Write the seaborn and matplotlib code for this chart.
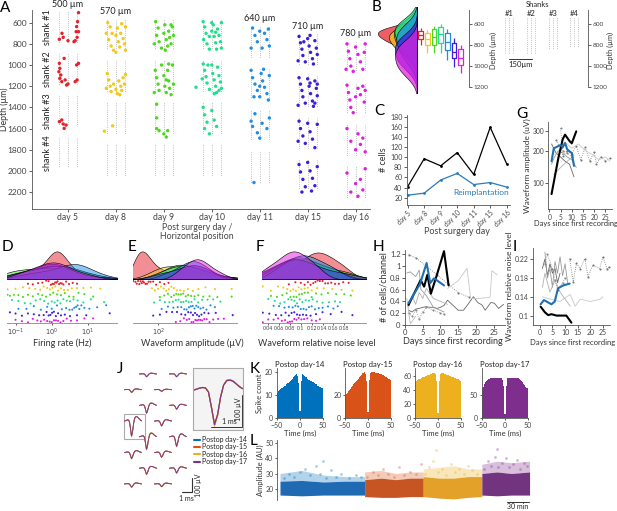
import numpy as np
import pandas as pd
import matplotlib
matplotlib.use("Agg")
import matplotlib.pyplot as plt
from matplotlib.lines import Line2D
from matplotlib.patches import Rectangle
from matplotlib.ticker import NullLocator
import seaborn as sns

# ---------------- values ----------------
days = ["day 5", "day 8", "day 9", "day 10", "day 11", "day 15", "day 16"]
day_colors = ["#e8202a", "#f2c81a", "#4cd81e", "#1ee08c", "#1f8ee6", "#3c1ed8", "#e01ee0"]
implant_top = [500, 570, 570, 570, 640, 710, 780]
depth_labels = ["500 µm", "570 µm", "", "", "640 µm", "710 µm", "780 µm"]

# panel A units: (horizontal offset within day, depth in um)
units_d5 = [(-0.18, 757), (-0.125, 700), (-0.1, 738), (0.0, 770), (0.125, 779), (0.17, 685), (0.18, 637),
            (0.2, 590), (0.22, 505), (0.19, 738), (0.15, 770), (0.22, 685),
            (-0.18, 984), (-0.19, 1063), (-0.17, 1126), (-0.13, 1157), (-0.08, 937), (-0.06, 1141),
            (-0.03, 1189), (0.0, 1179), (0.15, 1157), (0.18, 999), (0.22, 984), (-0.17, 1031),
            (-0.15, 1094), (0.19, 1141),
            (-0.18, 1535), (-0.13, 1519), (-0.1, 1557), (-0.04, 1567), (-0.08, 1598)]
units_d8 = [(-0.17, 600), (-0.12, 640), (-0.2, 700), (-0.15, 760), (-0.1, 820), (-0.05, 860), (0.0, 720),
            (0.03, 650), (0.05, 780), (0.08, 830), (0.1, 700), (0.12, 610), (0.15, 750), (0.18, 800),
            (0.2, 640), (0.2, 860), (-0.08, 700), (0.0, 880),
            (-0.18, 1080), (-0.15, 1140), (-0.12, 1200), (-0.1, 1250), (-0.05, 1180), (0.0, 1230),
            (0.03, 1270), (0.06, 1150), (0.1, 1200), (0.12, 1240), (0.15, 1120), (0.18, 1180),
            (0.2, 1090), (-0.2, 1220), (0.08, 1280),
            (-0.07, 1575), (-0.24, 1625)]
units_d9 = [(-0.17, 590), (-0.12, 650), (-0.15, 720), (-0.1, 780), (-0.05, 840), (0.0, 700), (0.02, 620),
            (0.05, 760), (0.08, 820), (0.1, 680), (0.12, 740), (0.15, 800), (0.18, 640), (0.2, 720),
            (-0.2, 800), (0.03, 860), (0.15, 620),
            (-0.18, 1050), (-0.15, 1120), (-0.12, 1180), (-0.1, 1240), (-0.05, 1000), (0.0, 1100),
            (0.02, 1200), (0.05, 1260), (0.08, 1050), (0.1, 1150), (0.12, 1220), (0.15, 1280),
            (0.18, 1000), (0.2, 1180), (-0.2, 1260), (0.05, 1140), (0.1, 990),
            (-0.15, 1370), (-0.15, 1500), (-0.15, 1600), (-0.1, 1620), (0.0, 1650), (0.05, 1680), (0.08, 1620)]
units_d10 = [(-0.18, 590), (-0.15, 640), (-0.12, 700), (-0.17, 760), (-0.1, 800), (-0.05, 850), (0.0, 680),
             (0.03, 620), (0.05, 730), (0.08, 790), (0.1, 850), (0.12, 660), (0.15, 720), (0.18, 780),
             (0.2, 600), (0.2, 840), (0.0, 600), (-0.05, 730), (0.08, 690),
             (-0.18, 990), (-0.15, 1050), (-0.12, 1110), (-0.1, 1170), (-0.05, 1230), (0.0, 1000),
             (0.02, 1080), (0.05, 1140), (0.08, 1200), (0.1, 1260), (0.12, 1020), (0.15, 1100),
             (0.18, 1160), (0.2, 1220), (-0.2, 1130), (0.05, 1270), (-0.08, 1000), (0.15, 1240),
             (-0.33, 1210),
             (-0.18, 1400), (-0.15, 1470), (-0.1, 1540), (-0.15, 1600), (-0.05, 1650), (0.0, 1430),
             (0.05, 1520), (0.1, 1580)]
units_d11 = [(-0.15, 650), (-0.1, 720), (-0.05, 780), (0.0, 680), (0.05, 840), (0.1, 700), (0.15, 760),
             (0.2, 820), (-0.18, 840), (0.18, 660),
             (-0.18, 1050), (-0.15, 1120), (-0.1, 1180), (-0.05, 1240), (0.0, 1300), (0.03, 1080),
             (0.06, 1150), (0.1, 1210), (0.15, 1270), (0.2, 1100), (0.18, 1330), (-0.12, 1300),
             (0.08, 1040), (0.0, 1200),
             (-0.18, 1530), (-0.15, 1580), (-0.1, 1460), (-0.05, 1640), (0.0, 1690), (0.05, 1550),
             (0.15, 1600), (0.2, 1500),
             (-0.12, 2110)]
units_d15 = [(-0.18, 730), (-0.15, 790), (-0.12, 850), (-0.1, 910), (-0.05, 970), (0.0, 750), (0.03, 820),
             (0.06, 880), (0.1, 940), (0.12, 990), (0.15, 770), (0.18, 840), (0.2, 900), (-0.2, 960),
             (0.05, 720), (-0.08, 780),
             (-0.18, 1120), (-0.15, 1180), (-0.12, 1240), (-0.1, 1300), (-0.05, 1360), (0.0, 1130),
             (0.03, 1200), (0.06, 1270), (0.1, 1340), (0.12, 1390), (0.15, 1150), (0.18, 1220),
             (0.2, 1290), (-0.2, 1380), (0.05, 1170), (0.15, 1360), (0.2, 1180),
             (-0.18, 1530), (-0.15, 1600), (-0.1, 1670), (-0.05, 1740), (0.0, 1550), (0.05, 1630),
             (0.1, 1700), (0.15, 1780), (0.2, 1560), (-0.2, 1720),
             (-0.18, 1940), (-0.15, 2010), (-0.1, 2080), (-0.05, 2150), (0.0, 1920), (0.05, 2000),
             (0.1, 2070), (0.15, 2140), (0.2, 1960), (-0.12, 2200), (0.08, 2190)]
units_d16 = [(-0.18, 800), (-0.15, 870), (-0.12, 940), (-0.1, 1010), (-0.05, 1060), (0.0, 830), (0.05, 900),
             (0.1, 970), (0.15, 1040), (0.2, 800), (0.18, 880), (-0.2, 1040),
             (-0.18, 1190), (-0.15, 1260), (-0.12, 1330), (-0.1, 1400), (-0.05, 1450), (0.0, 1300),
             (0.05, 1220), (0.1, 1280), (0.15, 1200), (0.18, 1350), (0.2, 1240),
             (-0.18, 1600), (-0.1, 1720), (0.0, 1800), (0.05, 1650), (0.1, 1750), (0.15, 1690), (0.2, 1820),
             (-0.18, 2020), (-0.1, 2200), (0.0, 2120), (0.05, 2240), (0.1, 2080), (0.15, 2180), (0.2, 1980)]
units_by_day = [units_d5, units_d8, units_d9, units_d10, units_d11, units_d15, units_d16]

# panel B: unit depths per day (whisker, q1, median, q3, whisker)
b_depths = [[638, 663, 700, 743, 797], [654, 686, 743, 797, 876], [616, 648, 717, 797, 870],
            [597, 629, 695, 775, 870], [648, 686, 765, 844, 940], [733, 781, 860, 924, 1003],
            [797, 838, 924, 987, 1067]]

# panel C
cells_total = [42, 97, 83, 109, 66, 159, 87]
cells_reimpl = [25, 29, 55, 68, 46, 50, 41]

# panel D firing rate (Hz)
fr_by_day = [
    [0.22, 0.3, 0.42, 0.55, 0.7, 0.82, 0.95, 1.05, 1.15, 1.25, 1.35, 1.45, 1.6, 1.75, 1.9, 2.1, 2.5, 3.0, 3.8, 5.0],
    [0.06, 0.1, 0.16, 0.24, 0.35, 0.48, 0.6, 0.75, 0.9, 1.05, 1.25, 1.5, 1.8, 2.2, 2.8, 3.6, 5.0, 7.5, 12.0, 22.0],
    [0.06, 0.07, 0.09, 0.12, 0.16, 0.22, 0.3, 0.42, 0.55, 0.7, 0.9, 1.1, 1.4, 1.8, 2.3, 3.0, 4.0, 5.5, 8.0, 14.0],
    [0.08, 0.12, 0.18, 0.26, 0.36, 0.48, 0.62, 0.8, 1.0, 1.2, 1.45, 1.75, 2.1, 2.6, 3.2, 4.0, 5.2, 7.5, 12.0, 28.0],
    [0.12, 0.2, 0.32, 0.5, 0.75, 1.0, 1.4, 1.9, 2.5, 3.1, 3.7, 4.2, 4.7, 5.2, 5.8, 6.6, 8.0, 11.0, 18.0, 32.0],
    [0.07, 0.1, 0.15, 0.22, 0.32, 0.45, 0.6, 0.72, 0.82, 0.92, 1.02, 1.15, 1.3, 1.5, 1.8, 2.3, 3.2, 5.0, 9.0, 40.0],
    [0.1, 0.15, 0.22, 0.3, 0.4, 0.5, 0.62, 0.75, 0.88, 1.0, 1.15, 1.3, 1.5, 1.75, 2.1, 2.6, 3.4, 5.0, 8.0, 14.0]]
# panel E waveform amplitude (uV)
amp_by_day = [
    [52, 55, 57, 59, 61, 63, 65, 67, 69, 72, 75, 78, 82, 88, 95, 105, 118, 132],
    [85, 92, 100, 108, 116, 124, 133, 142, 152, 165, 180, 198, 220, 250, 290, 350, 450, 700],
    [105, 118, 130, 142, 152, 162, 172, 183, 195, 208, 222, 240, 262, 290, 330, 390, 480, 700],
    [90, 105, 120, 135, 148, 160, 172, 184, 196, 210, 225, 242, 262, 288, 320, 370, 430, 520],
    [110, 130, 150, 168, 185, 200, 213, 226, 238, 250, 262, 275, 290, 308, 330, 360, 400, 450],
    [88, 105, 125, 145, 165, 185, 205, 222, 238, 252, 266, 280, 296, 315, 340, 380, 460, 720],
    [160, 180, 198, 214, 228, 242, 255, 268, 280, 293, 307, 322, 340, 362, 390, 430, 490, 570]]
# panel F relative noise level
noise_by_day = [
    [0.078, 0.09, 0.1, 0.107, 0.113, 0.118, 0.123, 0.127, 0.131, 0.135, 0.14, 0.145, 0.15, 0.156, 0.163, 0.17, 0.178, 0.188],
    [0.03, 0.045, 0.058, 0.068, 0.075, 0.081, 0.086, 0.091, 0.096, 0.101, 0.107, 0.113, 0.12, 0.13, 0.142, 0.158, 0.175, 0.195],
    [0.045, 0.056, 0.066, 0.074, 0.081, 0.087, 0.092, 0.097, 0.102, 0.107, 0.113, 0.12, 0.128, 0.138, 0.15, 0.165, 0.18, 0.192],
    [0.04, 0.052, 0.062, 0.07, 0.077, 0.083, 0.088, 0.093, 0.098, 0.103, 0.109, 0.115, 0.122, 0.13, 0.14, 0.152, 0.163, 0.172],
    [0.05, 0.06, 0.07, 0.078, 0.085, 0.09, 0.095, 0.1, 0.105, 0.11, 0.115, 0.12, 0.126, 0.133, 0.14, 0.15, 0.16, 0.168],
    [0.03, 0.042, 0.054, 0.064, 0.072, 0.078, 0.083, 0.088, 0.093, 0.098, 0.104, 0.11, 0.118, 0.128, 0.14, 0.155, 0.175, 0.195],
    [0.03, 0.04, 0.05, 0.058, 0.065, 0.071, 0.076, 0.08, 0.084, 0.088, 0.092, 0.096, 0.101, 0.106, 0.112, 0.12, 0.128, 0.135]]

# panel G (amplitude uV vs days)
g_black = ([1, 4, 6, 7, 9, 10, 12], [80, 170, 255, 280, 245, 233, 300])
g_blue = ([1, 2, 5, 6, 7, 8, 10, 11], [160, 210, 225, 215, 235, 205, 190, 145])
g_gray = [([1, 3, 5, 7, 9, 11], [230, 190, 175, 160, 150, 115]),
          ([1, 2, 4, 6, 8, 10, 12], [150, 170, 200, 190, 175, 165, 140]),
          ([3, 5, 6, 8, 10, 12, 14, 16, 18, 20, 21, 23, 25, 27],
           [250, 210, 180, 200, 185, 220, 165, 215, 160, 195, 150, 175, 160, 170]),
          ([4, 7, 10, 13, 16, 19, 22, 25, 27], [200, 240, 210, 230, 200, 185, 165, 175, 160]),
          ([2, 5, 8, 11], [120, 140, 160, 180]),
          ([5, 6, 8, 10], [320, 200, 190, 175])]
# panel H (cells / channel)
h_black = ([1, 4.4, 5.4, 6.3, 7.3, 9, 11, 12.3], [0.34, 0.76, 0.65, 0.85, 0.53, 0.85, 1.25, 0.67])
h_blue = ([1, 4.2, 6.1, 7.1, 8.2, 11], [0.37, 0.69, 1.05, 0.71, 0.79, 0.67])
h_gray = [([1, 2, 3, 4, 5, 6, 7, 8, 9, 10, 11, 12, 15, 16.5, 18, 19.3, 20.5, 21.7, 22.6, 24.2, 25.2, 26.4, 27.8],
           [0.25, 0.22, 0.27, 0.28, 0.3, 0.31, 0.3, 0.3, 0.28, 0.3, 0.33, 0.42, 0.25, 0.25, 0.37, 0.48,
            0.38, 0.34, 0.25, 0.38, 0.37, 0.28, 0.35]),
          ([0.5, 1.5, 3, 4, 4.5, 6, 8, 11], [0.88, 0.9, 0.82, 0.93, 0.6, 0.5, 0.3, 0.22]),
          ([1, 3, 6, 9, 12, 15, 18], [1.19, 1.14, 1.0, 0.85, 0.7, 0.55, 0.47]),
          ([12, 15, 17.5, 18.5, 21, 24, 24.5, 26], [0.62, 0.75, 0.96, 0.45, 0.45, 0.47, 0.92, 0.85]),
          ([1, 2, 3, 4, 5, 6, 8, 10, 12], [0.3, 0.5, 0.35, 0.55, 0.45, 0.62, 0.45, 0.4, 0.35]),
          ([1, 2, 3, 4, 5, 6, 8, 10, 11], [0.2, 0.15, 0.25, 0.1, 0.22, 0.3, 0.25, 0.2, 0.18]),
          ([0.5, 1.5, 3], [0.45, 0.02, 0.15])]
# panel I (relative noise)
i_black = ([0.3, 2, 3.3, 4.6, 6.6, 10.5, 12.5], [0.119, 0.107, 0.101, 0.103, 0.1, 0.1, 0.085])
i_blue = ([0.3, 1.6, 4.6, 5.9, 7.2, 9.2, 11.8], [0.124, 0.133, 0.124, 0.13, 0.158, 0.164, 0.168])
i_gray = [([1, 2, 3, 4, 5, 6, 7, 8], [0.2, 0.22, 0.185, 0.21, 0.19, 0.2, 0.17, 0.19]),
          ([2, 3, 4, 5, 6, 7, 8, 9, 10, 11], [0.235, 0.18, 0.2, 0.16, 0.215, 0.19, 0.225, 0.185, 0.21, 0.17]),
          ([11.8, 13.2, 14.5, 16, 17.8, 19.1, 21, 23.7, 25, 26.6, 27.6],
           [0.221, 0.172, 0.211, 0.2, 0.221, 0.183, 0.207, 0.2, 0.225, 0.2, 0.204]),
          ([1, 4, 8, 12, 14, 16, 20, 24, 25], [0.14, 0.135, 0.13, 0.145, 0.12, 0.135, 0.13, 0.135, 0.14]),
          ([1, 2, 4, 6, 8, 10, 12], [0.16, 0.19, 0.15, 0.175, 0.15, 0.135, 0.12]),
          ([2, 3, 5, 6, 7, 9, 10], [0.21, 0.23, 0.2, 0.175, 0.155, 0.17, 0.18])]

# panel J: mean waveform template (t in ms) and trough amplitude per site (uV)
wf_t = [-0.7, -0.6, -0.5, -0.4, -0.3, -0.2, -0.1, 0.0, 0.1, 0.2, 0.3, 0.4, 0.5, 0.6, 0.7, 0.8, 0.9, 1.0]
wf_shape = [0.0, 0.03, 0.06, 0.08, 0.07, -0.05, -0.5, -1.0, -0.72, -0.2, 0.15, 0.28, 0.3, 0.27, 0.2, 0.12, 0.06, 0.02]
site_amp = [[20, 20], [20, 12], [57, 28], [110, 35], [92, 70], [45, 35], [45, 35], [24, 20]]
session_gain = [1.0, 0.96, 1.03, 0.98]
sessions = ["Postop day-14", "Postop day-15", "Postop day-16", "Postop day-17"]
session_colors = ["#0072bd", "#d95319", "#edb120", "#7e2f8e"]

# panel K: auto-correlogram counts, 2 ms bins, -50..0 and 0..50
k_left = [
    [11, 11.5, 12, 12, 12.5, 13, 13, 13.5, 14, 14, 14.5, 15, 15, 15.5, 16, 16, 16.5, 17, 17.5, 18, 18.5, 19, 18, 15, 3],
    [20, 21, 22, 23, 24, 25, 26, 27, 28, 29, 30, 31, 32, 33, 34, 35, 36, 37, 38, 38.5, 39, 39.5, 38, 32, 5],
    [52, 53, 54, 55, 55.5, 56, 57, 57.5, 58, 58.5, 59, 59.5, 60, 60.5, 61, 61.5, 62, 62.5, 63, 63.5, 64, 64, 62, 52, 8],
    [65, 68, 71, 74, 77, 80, 82, 84, 85, 86, 87, 87, 87, 87, 87, 87, 87, 87, 87, 87, 87, 86, 83, 70, 10]]
k_right = [
    [3, 16, 18.5, 19, 18.5, 18, 17.5, 17.5, 17, 16.5, 16.5, 16, 16, 15.5, 15.5, 15, 15, 14.5, 14.5, 14, 14, 13.5, 13.5, 13, 13],
    [5, 33, 39, 40, 40, 40, 39.5, 39.5, 39, 39, 38.5, 38.5, 38, 38, 37.5, 37, 37, 36.5, 36, 35.5, 35, 34.5, 34, 33.5, 33],
    [8, 52, 62, 64, 64, 63.5, 63, 62.5, 62, 61.5, 61, 60.5, 60, 59.5, 59, 58.5, 58, 57.5, 57, 56.5, 56, 55.5, 55, 54, 53],
    [10, 70, 83, 86, 87, 87, 87, 87, 87, 87, 87, 87, 87, 87, 86, 85, 84, 82, 80, 77, 74, 71, 68, 66, 65]]
k_ylim = [21.5, 43, 71, 108]
k_yticks = [[0, 10, 20], [0, 20], [0, 20, 40, 60], [0, 50]]

# panel L: amplitude band per session (time in min)
l_time = [[0, 30, 60, 90, 117], [117, 140, 160, 180, 198], [198, 220, 240, 260, 279], [279, 300, 320, 345]]
l_low = [[16, 15.5, 16, 16, 16], [15, 14.5, 14.5, 15, 15], [15, 14, 13.5, 14.5, 15], [16, 15.5, 16, 16]]
l_high = [[25, 25.5, 24.5, 25, 25], [26, 27, 26, 27, 27], [28, 27, 27, 28, 28], [30, 31, 30, 31]]
l_halo = [[30, 32, 29, 28, 28], [31, 32, 30, 31, 31], [33, 34, 35, 33, 33], [36, 38, 37, 38]]
l_sparse = [
    [(5, 27), (12, 30), (20, 28), (28, 31), (35, 33), (42, 29), (50, 35), (55, 30), (63, 27), (70, 32),
     (78, 28), (85, 30), (95, 27), (105, 29), (112, 28), (60, 38)],
    [(120, 28), (128, 31), (135, 29), (142, 33), (150, 30), (158, 28), (165, 34), (172, 29), (180, 31),
     (188, 30), (195, 36)],
    [(200, 30), (206, 34), (212, 38), (218, 31), (224, 33), (230, 29), (236, 36), (242, 31), (248, 33),
     (254, 30), (260, 35), (266, 32), (272, 30), (215, 45)],
    [(282, 33), (287, 38), (292, 35), (297, 41), (302, 34), (307, 37), (312, 40), (317, 34), (322, 36),
     (327, 39), (332, 33), (337, 37), (342, 35), (300, 46)]]
l_band_colors = ["#1462b0", "#c44c18", "#e29c1e", "#6a2878"]

# ---------------- styling ----------------
sns.set_theme(style="ticks", rc={
    "axes.linewidth": 0.6, "axes.edgecolor": "#555555",
    "xtick.major.width": 0.6, "ytick.major.width": 0.6,
    "xtick.major.size": 2, "ytick.major.size": 2,
    "xtick.color": "#444444", "ytick.color": "#444444",
    "xtick.labelsize": 5.5, "ytick.labelsize": 5.5,
    "xtick.major.pad": 1.2, "ytick.major.pad": 1.2,
    "axes.labelsize": 6.5, "axes.labelpad": 1.0,
    "axes.labelcolor": "#333333", "text.color": "#222222"})
plt.rcParams["font.family"] = ["Lato", "DejaVu Sans"]

W, H = 617, 511
fig = plt.figure(figsize=(W / 100, H / 100), dpi=100)


def px_ax(x0, y0, x1, y1):
    return fig.add_axes([x0 / W, 1 - y1 / H, (x1 - x0) / W, (y1 - y0) / H])


def ftext(x, y, s, **kw):
    fig.text(x / W, 1 - y / H, s, **kw)


for letter, (lx, ly) in {"A": (0, 1), "B": (372, 0), "C": (374, 104), "G": (516, 107),
                         "D": (2, 240), "E": (128, 240), "F": (256, 240), "H": (373, 240),
                         "I": (513, 240), "J": (117, 362), "K": (250, 362), "L": (250, 434)}.items():
    ftext(lx, ly, letter, fontsize=11, va="top", ha="left", color="black")

# ---------------- A ----------------
shank_pitch, shank_len, site_cols = 395, 290, [-0.19, 0.0, 0.19]
axA = px_ax(31.7, 10, 370, 209)
for i, top in enumerate(implant_top):
    for k in range(4):
        y0 = top + k * shank_pitch
        for c in site_cols:
            axA.vlines(i + c, y0, y0 + shank_len, colors="#9a9a9a", linestyles=(0, (0.6, 1.6)), linewidth=0.7)
    if depth_labels[i]:
        axA.text(i, top - 75, depth_labels[i], ha="center", va="center", fontsize=6.5, clip_on=False)
rows = [(days[i], i + off, d) for i, units in enumerate(units_by_day) for off, d in units]
dfA = pd.DataFrame(rows, columns=["day", "x", "depth"])
sns.scatterplot(data=dfA, x="x", y="depth", hue="day", hue_order=days, palette=day_colors,
                s=6, linewidth=0, legend=False, ax=axA, zorder=3)
for k in range(4):
    axA.text(-0.42, implant_top[0] + shank_len / 2 + k * shank_pitch, f"shank #{k + 1}", rotation=90,
             ha="center", va="center", fontsize=6.5)
axA.set_xlim(-0.757, 6.3)
axA.set_ylim(2360, 480)
axA.set_xticks(range(7), days, fontsize=6.2)
axA.set_yticks(range(600, 2201, 200))
axA.tick_params(axis="y", labelsize=6)
axA.set_xlabel("")
axA.set_ylabel("Depth (µm)", fontsize=6.3, va="center")
axA.yaxis.set_label_coords(-0.08, 0.5)
sns.despine(ax=axA)
ftext(197, 232, "Post surgery day /\nHorizontal position", ha="center", va="center", fontsize=6.3,
      color="#444444", linespacing=1.1)

# ---------------- B ----------------
dfB = pd.DataFrame([(days[i], d) for i, vals in enumerate(b_depths) for d in vals], columns=["day", "depth"])
axBk = px_ax(375, 7, 417, 93)
for i, vals in enumerate(b_depths):
    sns.kdeplot(y=vals, ax=axBk, fill=True, color=day_colors[i], alpha=0.72, edgecolor="black",
                linewidth=0.4, bw_adjust=1.1)
axBk.set_ylim(1253, 436)
axBk.set_xlim(axBk.get_xlim()[1] * 1.02, 0)
axBk.set_xticks([])
axBk.set_yticks([])
axBk.set_xlabel("")
axBk.set_ylabel("")
for s in ["top", "left", "bottom"]:
    axBk.spines[s].set_visible(False)
axBk.spines["right"].set_color("black")
axBk.patch.set_alpha(0)

axBb = px_ax(417, 10, 469.3, 87.3)
sns.boxplot(data=dfB, x="day", y="depth", hue="day", order=days, hue_order=days, palette=day_colors,
            fill=False, width=0.7, linewidth=0.9, showcaps=False, whis=10, legend=False, ax=axBb)
axBb.set_xlim(-0.555, 7.28)
axBb.set_ylim(1200, 464)
axBb.set_xticks([])
axBb.yaxis.tick_right()
axBb.set_yticks([600, 800, 1000, 1200])
axBb.tick_params(axis="y", labelsize=4.6)
axBb.set_xlabel("")
axBb.set_ylabel("")
for s in ["top", "left", "bottom"]:
    axBb.spines[s].set_visible(False)
axBb.patch.set_alpha(0)
ftext(493, 50, "Depth (µm)", rotation=90, ha="center", va="center", fontsize=5.3, color="#333333")

shank_x_um = [91, 235, 378, 515]
probe_cols_um = [-26, 0, 26]
probe_bottom = [876, 876, 848, 819]
axP = px_ax(495, 10, 588, 87.3)
for s, xc in enumerate(shank_x_um):
    for c in probe_cols_um:
        axP.vlines(xc + c, 543, probe_bottom[s], colors="#9a9a9a", linestyles=(0, (0.6, 1.6)), linewidth=0.7)
    axP.text(xc, 502, f"#{s + 1}", ha="center", va="center", fontsize=5.5, clip_on=False)
axP.text(280, 410, "Shanks", ha="center", va="center", fontsize=5.5, clip_on=False)
axP.plot([shank_x_um[0], shank_x_um[0] + 150], [933, 933], color="#333333", lw=0.7)
axP.text(shank_x_um[0] + 75, 980, "150µm", ha="center", va="center", fontsize=5.5)
axP.set_xlim(0, 606)
axP.set_ylim(1200, 464)
axP.set_xticks([])
axP.yaxis.tick_right()
axP.set_yticks([600, 800, 1000, 1200])
axP.tick_params(axis="y", labelsize=4.6)
axP.set_ylabel("")
for s in ["top", "left", "bottom"]:
    axP.spines[s].set_visible(False)
ftext(610, 50, "Depth (µm)", rotation=90, ha="center", va="center", fontsize=5.3, color="#333333")

# ---------------- C ----------------
axC = px_ax(406.7, 115, 510, 205)
xpos = list(range(len(days)))
sns.lineplot(x=xpos, y=cells_total, ax=axC, color="black", lw=0.9, marker="o", markersize=2,
             markeredgewidth=0)
sns.lineplot(x=xpos, y=cells_reimpl, ax=axC, color="#2b7bba", lw=0.9, marker="o", markersize=2,
             markeredgewidth=0)
axC.text(4.44, 29.9, "Reimplantation", color="#2b7bba", fontsize=6, ha="center", va="center")
axC.set_xlim(-0.06, 6.2)
axC.set_ylim(5.6, 183.4)
axC.set_yticks(range(20, 181, 20))
axC.set_xticks(xpos)
axC.set_xticklabels(days, rotation=45, ha="right", rotation_mode="anchor", fontsize=4.8)
axC.tick_params(axis="y", labelsize=5)
axC.set_ylabel("# cells", fontsize=6.5)
sns.despine(ax=axC)
ftext(457, 232, "Post surgery day", ha="center", va="center", fontsize=6.5, color="#444444")

# ---------------- G / H / I ----------------
gray_styles = [("#666666", "-", ""), ("#999999", "-", ""), ("#777777", ":", "o"), ("#c8c8c8", "-", ""),
               ("#b0b0b0", "-", ""), ("#888888", ":", "o"), ("#bbbbbb", "-", "")]


def traj_panel(ax, gray, black, blue):
    for j, (xs, ys) in enumerate(gray):
        col, ls, mk = gray_styles[j % len(gray_styles)]
        sns.lineplot(x=xs, y=ys, ax=ax, color=col, lw=0.6, linestyle=ls, marker=mk if mk else None,
                     markersize=1.5, markeredgewidth=0, estimator=None, sort=False)
    sns.lineplot(x=black[0], y=black[1], ax=ax, color="black", lw=1.5, estimator=None, sort=False)
    sns.lineplot(x=blue[0], y=blue[1], ax=ax, color="#1f6fb2", lw=1.5, estimator=None, sort=False)
    ax.set_xticks(range(0, 26, 5))
    sns.despine(ax=ax)


axG = px_ax(548.3, 121.7, 611.7, 209.3)
traj_panel(axG, g_gray, g_black, g_blue)
axG.set_yscale("log")
axG.set_ylim(58, 368)
axG.set_xlim(-0.45, 27.8)
axG.set_yticks([100, 200, 300], ["100", "200", "300"])
axG.yaxis.set_minor_locator(NullLocator())
axG.tick_params(labelsize=4.8)
axG.set_ylabel("Waveform amplitude (uV)", fontsize=6)
ftext(576, 223, "Days since first recording", ha="center", va="center", fontsize=5.4, color="#333333")

axH = px_ax(405, 250, 505, 325)
traj_panel(axH, h_gray, h_black, h_blue)
axH.set_xlim(0, 28.2)
axH.set_ylim(0, 1.27)
axH.set_yticks([0, 0.2, 0.4, 0.6, 0.8, 1.0, 1.2], ["0", "0.2", "0.4", "0.6", "0.8", "1", "1.2"])
axH.set_ylabel("# of cells/channel", fontsize=6.5)
ftext(453, 342, "Days since first recording", ha="center", va="center", fontsize=6.5, color="#333333")

axI = px_ax(533.3, 248.3, 610, 325)
traj_panel(axI, i_gray, i_black, i_blue)
axI.set_xlim(-2.6, 27.8)
axI.set_ylim(0.08, 0.243)
axI.set_yticks([0.1, 0.14, 0.18, 0.22], ["0.1", "0.14", "0.18", "0.22"])
axI.tick_params(labelsize=5)
axI.set_ylabel("Waveform relative noise level", fontsize=6)
ftext(573, 342, "Days since first recording", ha="center", va="center", fontsize=5.5, color="#333333")


# ---------------- D / E / F ----------------
def dist_panel(x0, x1, vals_by_day, log, xlim, ticks, ticklabels, xlabel, xlabel_x, tick_fs):
    axk = px_ax(x0, 250, x1, 279.3)
    axr = px_ax(x0, 279.3, x1, 323.3)
    for i, vals in enumerate(vals_by_day):
        sns.kdeplot(x=vals, ax=axk, log_scale=log, fill=True, color=day_colors[i], alpha=0.5,
                    edgecolor="black", linewidth=0.4, common_norm=False)
    df = pd.DataFrame([(days[i], v) for i, vals in enumerate(vals_by_day) for v in vals], columns=["day", "val"])
    sns.stripplot(data=df, x="val", y="day", hue="day", order=days, hue_order=days, palette=day_colors,
                  size=1.5, jitter=0.38, linewidth=0, legend=False, ax=axr, log_scale=True if log else None)
    for ax in (axk, axr):
        ax.set_xlim(*xlim)
        ax.xaxis.set_minor_locator(NullLocator())
        ax.set_xlabel("")
        ax.set_ylabel("")
        ax.patch.set_alpha(0)
    axk.set_ylim(bottom=0)
    axk.set_xticks([])
    axk.set_yticks([])
    for s in axk.spines.values():
        s.set_visible(False)
    axr.set_yticks([])
    for s in ["top", "left", "right"]:
        axr.spines[s].set_visible(False)
    axr.spines["bottom"].set_color("#888888")
    axr.set_xticks(ticks, ticklabels)
    axr.tick_params(axis="x", labelsize=tick_fs, length=1.5, pad=0.8)
    ftext(xlabel_x, 343, xlabel, ha="center", va="center", fontsize=6.5, color="#333333")


dist_panel(6.7, 116.7, fr_by_day, True, (0.057, 62.5), [0.1, 1, 10],
           [r"$10^{-1}$", r"$10^{0}$", r"$10^{1}$"], "Firing rate (Hz)", 62, 4.8)
dist_panel(133.3, 236.7, amp_by_day, True, (52, 800), [100], [r"$10^{2}$"], "Waveform amplitude (µV)", 192, 4.8)
dist_panel(261.7, 366, noise_by_day, False, (0.028, 0.22),
           [0.04, 0.06, 0.08, 0.1, 0.12, 0.14, 0.16, 0.18],
           ["0.04", "0.06", "0.08", "0.1", "0.12", "0.14", "0.16", "0.18"], "Waveform relative noise level", 317, 3.8)

# ---------------- J ----------------
axJ = px_ax(115, 365, 200, 500)
t = np.array(wf_t)
shape = np.array(wf_shape)
for k, amps in enumerate(site_amp):
    cols_px = [148, 178] if k % 2 == 0 else [133, 163]
    cy = 374 + 15.7 * k
    for c, cx in enumerate(cols_px):
        xm = (cx - 115) / 10
        yb = -(cy - 365) / 0.14
        for g, col in zip(session_gain, session_colors):
            axJ.plot(xm + t - 0.15, yb + amps[c] * g * shape, color=col, lw=0.6)
box_xm = (133 - 115) / 10
axJ.add_patch(Rectangle((box_xm - 0.95, -525), 2.1, 175, fill=False, edgecolor="#aaaaaa", lw=0.8))
axJ.plot([6.67, 7.67, 7.67], [-907, -907, -807], color="#333333", lw=0.8)
axJ.text(7.17, -925, "1 ms", ha="center", va="top", fontsize=5)
axJ.text(8.3, -857, "100 µV", rotation=90, ha="center", va="center", fontsize=5)
axJ.set_xlim(0, 8.5)
axJ.set_ylim(-964, 0)
axJ.axis("off")

axJi = px_ax(193.3, 368, 243.3, 430)
box_amp = site_amp[3][0]
for g, col in zip(session_gain, session_colors):
    axJi.plot(t, box_amp * g * shape, color=col, lw=0.8)
axJi.plot([-0.1, 0.9, 0.9], [-115, -115, -15], color="#333333", lw=0.7)
axJi.text(0.5, -110, "1 ms", ha="center", va="bottom", fontsize=5)
axJi.text(0.8, -60, "100 µV", rotation=90, ha="center", va="center", fontsize=5)
axJi.set_xlim(-0.7, 0.95)
axJi.set_ylim(-125, 70)
axJi.set_xticks([])
axJi.set_yticks([])
axJi.set_facecolor("#f4f4f4")
for s in axJi.spines.values():
    s.set_color("#aaaaaa")
    s.set_linewidth(0.8)
handles = [Line2D([0], [0], color=c, lw=1.5) for c in session_colors]
fig.legend(handles, sessions, loc="upper left", bbox_to_anchor=(194 / W, 1 - 436 / H), fontsize=5,
           frameon=False, handlelength=0.8, handletextpad=0.3, labelspacing=0.05, borderpad=0,
           borderaxespad=0)

# ---------------- K ----------------
edges = list(range(-50, 52, 2))
centers = [e + 1 for e in edges[:-1]]
for j, x0 in enumerate([276.7, 345, 415, 481.7]):
    axK = px_ax(x0, 368, x0 + 46, 418.3)
    dfK = pd.DataFrame({"t": centers, "n": k_left[j] + k_right[j]})
    sns.histplot(data=dfK, x="t", weights="n", bins=edges, element="step", fill=True,
                 color=session_colors[j], alpha=1, linewidth=0, ax=axK)
    axK.set_xlim(-50, 50)
    axK.set_ylim(0, k_ylim[j])
    axK.set_xticks([-50, 0, 50])
    axK.set_yticks(k_yticks[j])
    axK.tick_params(labelsize=5, length=1.5)
    axK.set_title(sessions[j], fontsize=5.5, pad=1)
    axK.set_xlabel("Time (ms)", fontsize=5.5, labelpad=0.5)
    axK.set_ylabel("Spike count" if j == 0 else "", fontsize=5.5)
    sns.despine(ax=axK)

# ---------------- L ----------------
axL = px_ax(277.3, 440, 530, 500)
for j in range(4):
    axL.fill_between(l_time[j], l_high[j], l_halo[j], color=session_colors[j], alpha=0.3, lw=0)
    axL.fill_between(l_time[j], l_low[j], l_high[j], color=l_band_colors[j], alpha=0.95, lw=0)
    pts = pd.DataFrame(l_sparse[j], columns=["t", "amp"])
    sns.scatterplot(data=pts, x="t", y="amp", color=session_colors[j], alpha=0.35, s=4, linewidth=0, ax=axL)
axL.set_xlim(-3.7, 345.6)
axL.set_ylim(12.8, 51.75)
axL.set_yticks([20, 30, 40, 50])
axL.set_xticks([])
axL.set_xlabel("")
axL.tick_params(labelsize=5, length=1.5)
axL.set_ylabel("Amplitude (AU)", fontsize=5.5)
sns.despine(ax=axL, bottom=True)
axL.plot([313.7, 343.7], [11.5, 11.5], color="#333333", lw=0.7, clip_on=False)
axL.text(328.7, 11.0, "30 min", ha="center", va="top", fontsize=5, clip_on=False)

fig.savefig("out.png", dpi=100)
